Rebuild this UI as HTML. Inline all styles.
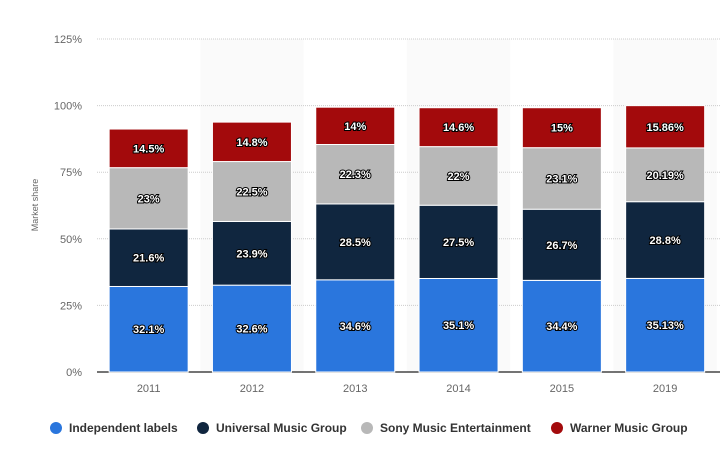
<!DOCTYPE html>
<html><head><meta charset="utf-8"><style>
body{margin:0;background:#fff;font-family:"Liberation Sans",sans-serif;}
svg text{font-family:"Liberation Sans",sans-serif;}
</style></head><body>
<svg width="726" height="446">
<g id="bands"></g><g id="grid"></g><g id="bars"></g><g id="xl"></g>
<text transform="translate(38,205) rotate(-90)" text-anchor="middle" font-size="9" fill="#666">Market share</text>
<g id="legend"></g>
</svg>
<script>
const categories=["2011","2012","2013","2014","2015","2019"];
const independent=[32.1,32.6,34.6,35.1,34.4,35.13];
const universal=[21.6,23.9,28.5,27.5,26.7,28.8];
const sony=[23,22.5,22.3,22,23.1,20.19];
const warner=[14.5,14.8,14,14.6,15,15.86];
const yTicks=[0,25,50,75,100,125];
const seriesNames=["Independent labels","Universal Music Group","Sony Music Entertainment","Warner Music Group"];
const seriesLabels=[["32.1%","32.6%","34.6%","35.1%","34.4%","35.13%"],["21.6%","23.9%","28.5%","27.5%","26.7%","28.8%"],["23%","22.5%","22.3%","22%","23.1%","20.19%"],["14.5%","14.8%","14%","14.6%","15%","15.86%"]];
const colors=["#2a76dd","#10263f","#b8b8b8","#a30a0c"];
const NS="http://www.w3.org/2000/svg";
const x0=97,cw=103.3,bw=79,yb=372,ppu=333/125;
const y=v=>yb-v*ppu, cx=i=>x0+cw*(i+0.5);
function mk(t,a,p){const e=document.createElementNS(NS,t);for(const k in a)e.setAttribute(k,a[k]);document.getElementById(p).appendChild(e);return e;}
categories.forEach((c,i)=>{if(i%2==1){const r=mk('rect',{x:x0+cw*i,y:39,width:cw,height:333,fill:'#fafafa'},'bands');

}});
yTicks.forEach(t=>{const l=mk('line',{x1:x0,x2:720,y1:y(t),y2:y(t),stroke:t?'#ccc':'#222','stroke-dasharray':t?'1,1':'',"stroke-width":t?1:1.2},'grid');


const tx=mk('text',{x:82,y:y(t)+4,'text-anchor':'end','font-size':11,fill:'#666'},'grid');tx.textContent=t+'%';

});
const series=[independent,universal,sony,warner];
categories.forEach((c,i)=>{let acc=0;series.forEach((s,k)=>{const v=s[i];
const r=mk('rect',{x:cx(i)-bw/2,y:y(acc+v),width:bw,height:v*ppu,fill:colors[k],stroke:'#fff','stroke-width':1},'bars');


const tx=mk('text',{x:cx(i),y:y(acc+v/2)+4,'text-anchor':'middle','font-size':11,'font-weight':'bold',fill:'#fff',stroke:'#000','stroke-width':2,'paint-order':'stroke'},'bars');tx.textContent=seriesLabels[k][i];


acc+=v;});
const xt=mk('text',{x:cx(i),y:392,'text-anchor':'middle','font-size':11,fill:'#666'},'xl');xt.textContent=c;

});
const lx=[56,203,367,557];
seriesNames.forEach((n,k)=>{const c=mk('circle',{cx:lx[k],cy:428,r:6,fill:colors[k]},'legend');


const t=mk('text',{x:lx[k]+13,y:432,'font-size':12,'font-weight':'bold',fill:'#333'},'legend');t.textContent=n;

});
</script>
</body></html>
